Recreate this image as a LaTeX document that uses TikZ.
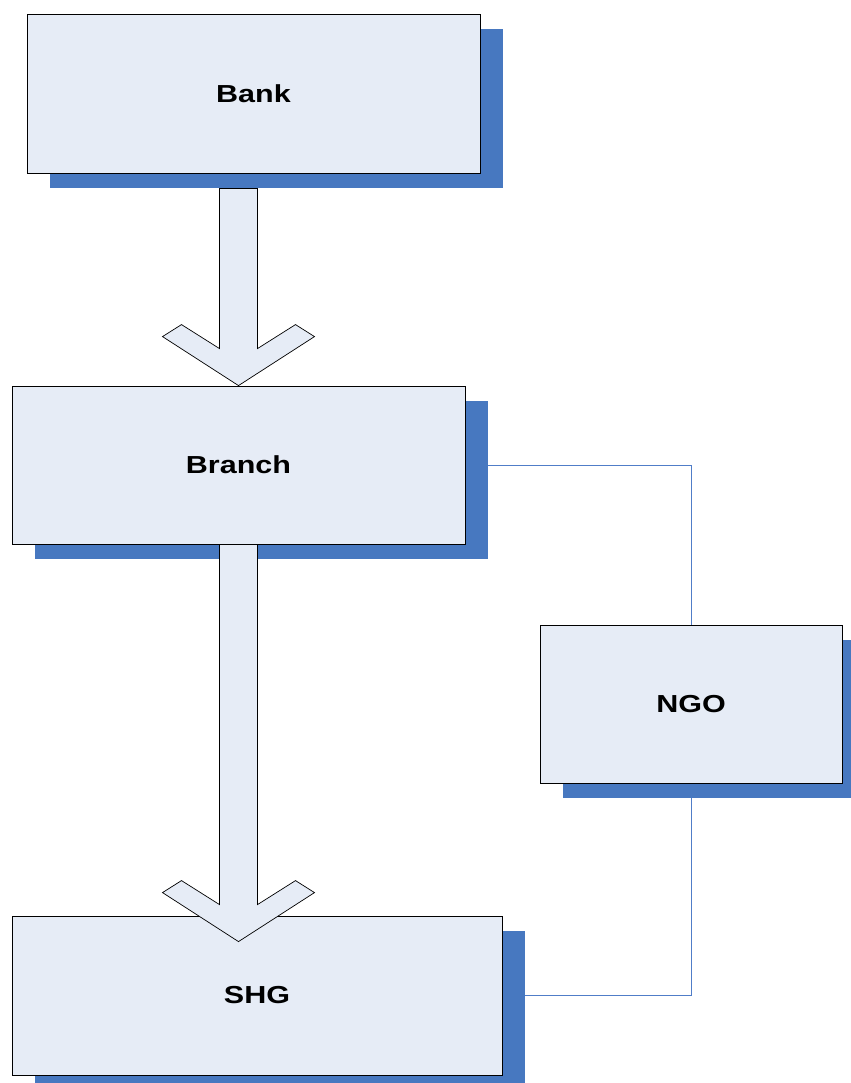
\documentclass[tikz,border=0pt]{standalone}
\usepackage{fontspec}
\setmainfont{Liberation Sans}
\usetikzlibrary{calc,shadows}
\definecolor{boxfill}{RGB}{230,236,246}
\definecolor{shadowblue}{RGB}{71,120,192}
\definecolor{linkblue}{RGB}{80,125,200}
\tikzstyle{orgbox}=[rectangle,draw=black,line width=0.7pt,fill=boxfill,inner sep=0pt,
  font=\fontsize{21}{25}\selectfont\bfseries,
  drop shadow={shadow xshift=0.69cm,shadow yshift=-0.45cm,fill=shadowblue,opacity=1}]
\tikzstyle{blockarrow}=[draw=black,line width=0.6pt,fill=boxfill,line join=miter]
\tikzstyle{link}=[draw=linkblue,line width=0.8pt]
\newcommand{\stretched}[1]{\scalebox{1.24}[1]{#1}}
\newcommand{\flowarrow}[2]{%
\draw[blockarrow] ($(#2|-#1)+(-19,0)$) -- ($(#2)+(-19,-37)$) -- ($(#2)+(-57,-61)$)
  -- ($(#2)+(-76,-49)$) -- (#2) -- ($(#2)+(76,-49)$) -- ($(#2)+(57,-61)$)
  -- ($(#2)+(19,-37)$) -- ($(#2|-#1)+(19,0)$) -- cycle;}

\begin{document}
\begin{tikzpicture}[x=0.03cm,y=-0.03cm]
\useasboundingbox (0,0) rectangle (851,1083);
% connectors behind the boxes
\coordinate (branchc) at (238.5,465);
\coordinate (ngoc) at (691,704);
\coordinate (shgc) at (257,995.5);
\draw[link] (branchc) -| (ngoc);
\draw[link] (ngoc) |- (shgc);
% boxes
\node[orgbox,minimum width=13.59cm,minimum height=4.77cm] (Bank) at (253.5,93.5) {\stretched{Bank}};
\node[orgbox,minimum width=13.59cm,minimum height=4.74cm] (Branch) at (branchc) {\stretched{Branch}};
\node[orgbox,minimum width=9.06cm,minimum height=4.74cm] (NGO) at (ngoc) {\stretched{NGO}};
\node[orgbox,minimum width=14.7cm,minimum height=4.77cm] (SHG) at (shgc) {\stretched{SHG}};
% block arrows
\coordinate (bankout) at ($(Bank.south)+(0,15)$);
\coordinate (shgin) at ($(Branch.south|-SHG.north)+(0,26)$);
\flowarrow{bankout}{Branch.north}
\flowarrow{Branch.south}{shgin}
\end{tikzpicture}
\end{document}
